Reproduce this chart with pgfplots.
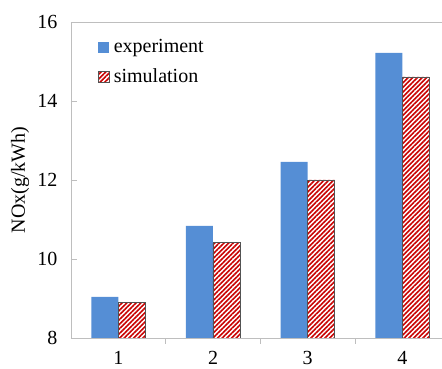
\documentclass[border=0pt]{standalone}
\usepackage{fontspec}
\setmainfont{Liberation Serif}
\usepackage{pgfplots}
\pgfplotsset{compat=1.18}
\usetikzlibrary{patterns.meta}
\definecolor{expblue}{RGB}{85,142,213}
\definecolor{simred}{RGB}{200,0,0}
\definecolor{axgray}{RGB}{190,190,190}
\newcommand{\chartfont}{\fontsize{20bp}{24bp}\selectfont}
\begin{document}
\begin{tikzpicture}[font=\chartfont]
\begin{axis}[
  scale only axis,
  width=371bp, height=316bp,
  xmin=0.5, xmax=4.419,
  ymin=8, ymax=16,
  ytick={8,10,12,14,16},
  xtick={1,2,3,4},
  xticklabels={1,2,3,4},
  axis x line*=bottom,
  axis y line*=left,
  axis line style={draw=axgray, line width=0.9bp},
  tick align=inside,
  major tick length=6bp,
  tick style={draw=axgray, line width=0.9bp},
  xtick style={draw=none},
  extra x ticks={1.5,2.5,3.5},
  extra x tick labels={},
  extra x tick style={xtick style={draw=axgray, line width=0.9bp}},
  /pgf/number format/assume math mode=true,
  tick label style={font=\chartfont},
  yticklabel style={xshift=-10bp},
  xticklabel style={inner sep=0pt, yshift=-7bp},
  ylabel={NOx(g/kWh)},
  every axis y label/.style={at={(axis description cs:-0.1375,0.5)}, rotate=90, anchor=center, font=\chartfont},
  ybar,
  bar width=27bp,
  legend style={at={(0,1)}, anchor=north west, xshift=27bp, yshift=-16bp,
    draw=none, fill=none, inner sep=0pt, row sep=12bp, font=\chartfont,
    nodes={inner sep=0pt, anchor=west, text height=14bp, text depth=4bp},
    /tikz/every odd column/.append style={column sep=4bp}},
  legend cell align=left,
]
\addplot[fill=expblue, draw=none, bar shift=-13.5bp,
  legend image code/.code={\fill[expblue] (0bp,-5.5bp) rectangle (11bp,5.5bp);}]
  coordinates {(1,9.04) (2,10.84) (3,12.46) (4,15.22)};
\addlegendentry{experiment}
\addplot[draw=black!68, line width=0.7bp, fill=white,
  pattern={Lines[angle=45, distance=3.3bp, line width=1.6bp]}, pattern color=simred,
  bar shift=13.5bp,
  legend image code/.code={\draw[draw=black!68, line width=0.6bp, pattern={Lines[angle=45, distance=3.3bp, line width=1.6bp]}, pattern color=simred] (0bp,-5.5bp) rectangle (11bp,5.5bp);}]
  coordinates {(1,8.91) (2,10.41) (3,12.0) (4,14.61)};
\addlegendentry{simulation}
\draw[axgray, line width=0.9bp] (rel axis cs:0,1) -- (rel axis cs:1,1);
\end{axis}
\pgfresetboundingbox
\path[use as bounding box] ([xshift=-71bp,yshift=-31bp]current axis.south west) rectangle ([yshift=22bp]current axis.north east);
\end{tikzpicture}
\end{document}
